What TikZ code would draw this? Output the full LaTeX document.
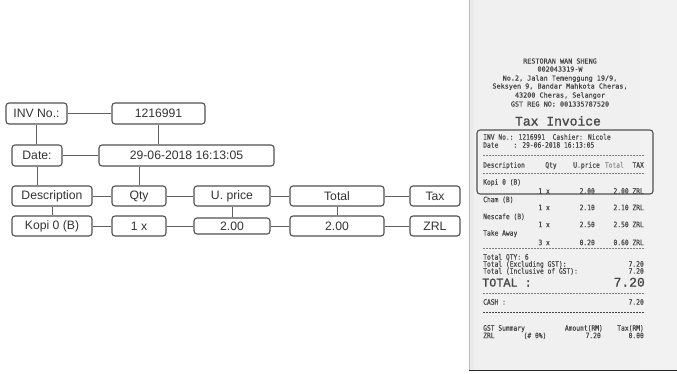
\documentclass[tikz,border=0pt]{standalone}
\usepackage{fontspec}
\setmainfont{Liberation Sans}
\newfontfamily\rcptn[FakeStretch=0.85,FakeBold=0.4]{DejaVu Sans Mono}
\newfontfamily\rcptw[FakeBold=0.4]{DejaVu Sans Mono}
\newfontfamily\rcptbig[FakeBold=1.2]{Liberation Mono}
\definecolor{boxline}{HTML}{505050}
\definecolor{conn}{HTML}{606060}
\definecolor{boxtext}{HTML}{333333}
\definecolor{ink}{HTML}{474747}
\definecolor{paper}{HTML}{F0F0F0}
\begin{document}
\begin{tikzpicture}[x=1pt,y=-1pt,
 box/.style={draw=boxline, line width=1.1pt, rounded corners=3pt, fill=white, inner sep=0pt,
   minimum height=21pt, font=\fontsize{12.2}{14}\selectfont, text=boxtext},
 link/.style={draw=conn, line width=1pt},
 rc/.style={inner sep=0pt, text=ink, font=\rcptn\fontsize{7.4}{8}\selectfont, text height=5.3pt, text depth=0pt},
 rh/.style={inner sep=0pt, text=ink, font=\rcptw\fontsize{6.8}{8}\selectfont, text height=5pt, text depth=0pt},
 rbig/.style={inner sep=0pt, text=ink, font=\rcptbig\fontsize{13}{14}\selectfont, text height=7pt, text depth=0pt},
 rdash/.style={draw=ink!70, dash pattern=on 2pt off 1pt, line width=0.6pt}
]
\useasboundingbox (0,0) rectangle (677,373);
\fill[white] (0,0) rectangle (677,373);

% ---------------- diagram ----------------
\node[box, minimum width=61pt] (inv)   at (36.5,113.5) {INV No.:};
\node[box, minimum width=93pt] (invn)  at (158.5,113.5) {1216991};
\node[box, minimum width=50pt] (date)  at (37,155.5) {Date:};
\node[box, minimum width=175pt] (datev) at (186.5,155.5) {29-06-2018 16:13:05};
\node[box, minimum width=80pt, minimum height=20pt] (desc)   at (52,196) {Description};
\node[box, minimum width=54pt, minimum height=20pt] (qty)    at (139,196) {Qty};
\node[box, minimum width=76pt, minimum height=20pt] (uprice) at (232,196) {U. price};
\node[box, minimum width=94pt, minimum height=20pt] (total)  at (337,196) {Total};
\node[box, minimum width=50pt, minimum height=20pt] (tax)    at (435,196) {Tax};
\node[box, minimum width=80pt, minimum height=20pt] (kopi)   at (52,226) {Kopi 0 (B)};
\node[box, minimum width=54pt, minimum height=20pt] (onex)   at (139,226) {1 x};
\node[box, minimum width=76pt, minimum height=16pt] (up2)    at (232,226) {2.00};
\node[box, minimum width=94pt, minimum height=20pt] (tot2)   at (337,226) {2.00};
\node[box, minimum width=50pt, minimum height=20pt] (zrl)    at (435,226) {ZRL};

\draw[link] (inv.east) -- (invn.west);
\draw[link] (inv.south) -- (inv.south |- date.north);
\draw[link] (invn.south) -- (invn.south |- datev.north);
\draw[link] (date.east) -- (datev.west);
\draw[link] (date.south) -- (date.south |- desc.north);
\draw[link] (qty.north) -- (qty.north |- datev.south);
\draw[link] (desc.east) -- (qty.west);
\draw[link] (qty.east) -- (uprice.west);
\draw[link] (uprice.east) -- (total.west);
\draw[link] (total.east) -- (tax.west);
\draw[link] (desc.south) -- (kopi.north);
\draw[link] (uprice.south) -- (up2.north);
\draw[link] (total.south) -- (tot2.north);
\draw[link] (kopi.east) -- (onex.west);
\draw[link] (onex.east) -- (up2.west);
\draw[link] (up2.east) -- (tot2.west);
\draw[link] (tot2.east) -- (zrl.west);

% ---------------- receipt ----------------
\fill[paper] (469,0) rectangle (677,370);
\fill[gray!16] (469,0) rectangle (474,370);
\fill[gray!10] (640,0) rectangle (677,370);
\draw[gray!55, line width=1.2pt] (469.6,0) -- (469.6,370);
\draw[black!85, line width=1.4pt] (469,370.5) -- (677,370.5);

\node[rh] (h1) at (560,61) {RESTORAN WAN SHENG};
\node[rh] (h2) at (560,69) {002043319-W};
\node[rh] (h3) at (560,78) {No.2, Jalan Temenggung 19/9,};
\node[rh] (h4) at (560,86) {Seksyen 9, Bandar Mahkota Cheras,};
\node[rh] (h5) at (560,95) {43200 Cheras, Selangor};
\node[rh] (h6) at (560,104) {GST REG NO: 001335787520};
\node[rbig] (ti) at (558,122) {Tax Invoice};

\draw[boxline, line width=1.1pt, rounded corners=3pt] (477,130) rectangle (653,194);

\node[rc, anchor=west] (l1) at (483,137) {INV No.: 1216991\ \ Cashier: Nicole};
\node[rc, anchor=west] (l2) at (483,145) {Date\ \ \ \ : 29-06-2018 16:13:05};
\draw[rdash] (483,155) -- (645,155);
\node[rc, anchor=west] (c1) at (483,165) {Description};
\node[rc] (c2) at (551,165) {Qty};
\node[rc, anchor=east] (c3) at (600,165) {U.price};
\node[rc, anchor=east, text=ink!60] (c4) at (624,165) {Total};
\node[rc, anchor=east] (c5) at (644,165) {TAX};
\draw[rdash] (483,173) -- (645,173);

\node[rc, anchor=west] (i1) at (483,182) {Kopi 0 (B)};
\node[rc, anchor=east] (i1q) at (550,191) {1 x};
\node[rc, anchor=east] (i1p) at (595,191) {2.00};
\node[rc, anchor=east] (i1t) at (644,191) {2.00 ZRL};

\node[rc, anchor=west] (i2) at (483,199.5) {Cham (B)};
\node[rc, anchor=east] (i2q) at (550,207.5) {1 x};
\node[rc, anchor=east] (i2p) at (595,207.5) {2.10};
\node[rc, anchor=east] (i2t) at (644,207.5) {2.10 ZRL};

\node[rc, anchor=west] (i3) at (483,216.5) {Nescafe (B)};
\node[rc, anchor=east] (i3q) at (550,224.5) {1 x};
\node[rc, anchor=east] (i3p) at (595,224.5) {2.50};
\node[rc, anchor=east] (i3t) at (644,224.5) {2.50 ZRL};

\node[rc, anchor=west] (i4) at (483,233) {Take Away};
\node[rc, anchor=east] (i4q) at (550,242.5) {3 x};
\node[rc, anchor=east] (i4p) at (595,242.5) {0.20};
\node[rc, anchor=east] (i4t) at (644,242.5) {0.60 ZRL};
\draw[rdash] (483,248) -- (645,248);

\node[rc, anchor=west] (t1) at (483,257) {Total QTY: 6};
\node[rc, anchor=west] (t2) at (483,264) {Total (Excluding GST):};
\node[rc, anchor=east] (t2v) at (644,264) {7.20};
\node[rc, anchor=west] (t3) at (483,271) {Total (Inclusive of GST):};
\node[rc, anchor=east] (t3v) at (644,271) {7.20};
\node[rbig, anchor=west, font=\rcptbig\fontsize{11.8}{14}\selectfont] (t4) at (482,283) {TOTAL :};
\node[rbig, anchor=east] (t4v) at (645,283) {7.20};
\draw[rdash] (483,293) -- (645,293);

\node[rc, anchor=west] (ca) at (483,302) {CASH :};
\node[rc, anchor=east] (cav) at (644,302) {7.20};
\draw[rdash, draw=ink] (483,312) -- (645,312);

\node[rc, anchor=west] (g1) at (483,328) {GST Summary};
\node[rc, anchor=east] (g2) at (603,328) {Amount(RM)};
\node[rc, anchor=east] (g3) at (644,328) {Tax(RM)};
\node[rc, anchor=west] (g4) at (483,335.5) {ZRL};
\node[rc] (g5) at (535,335.5) {(\# 0\%)};
\node[rc, anchor=east] (g6) at (601,335.5) {7.20};
\node[rc, anchor=east] (g7) at (644,335.5) {0.00};
\end{tikzpicture}
\end{document}
